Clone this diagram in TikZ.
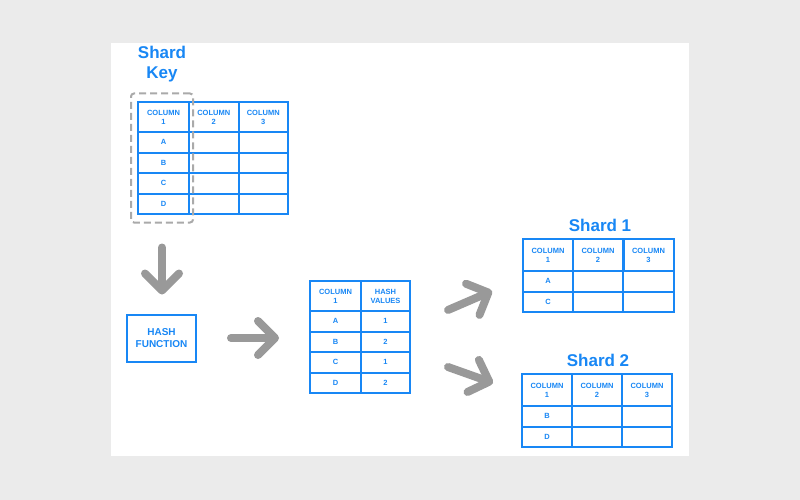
\documentclass[tikz,border=0pt]{standalone}
\usepackage{fontspec}
\setmainfont{Liberation Sans}
\usetikzlibrary{fit,positioning,arrows.meta}
\definecolor{tblue}{RGB}{24,135,245}
\definecolor{agrey}{RGB}{153,153,153}
\definecolor{dgrey}{RGB}{170,170,170}
\definecolor{bggrey}{RGB}{235,235,235}
\tikzset{
  cell/.style={draw=tblue, line width=2pt, minimum width=50pt, minimum height=20.5pt,
    inner sep=0pt, text=tblue, font=\bfseries\fontsize{7.5}{9}\selectfont, align=center},
  headcell/.style={cell, minimum height=30pt},
  bigarrow/.style={draw=agrey, line width=8pt, line cap=round,
    -{Straight Barb[length=17pt, width=34pt, round]}},
  heading/.style={text=tblue, font=\bfseries\fontsize{17}{20}\selectfont, align=center, inner sep=0pt},
}
\begin{document}
\begin{tikzpicture}[x=1pt, y=-1pt]
    \fill[bggrey] (0,0) rectangle (800,500);
    \fill[white] (111,43) rectangle (689,456);

    % original table with the shard key
    \node[headcell, minimum width=51pt] (key-1-1) at (163.5,117) {COLUMN\\1};
    \node[headcell, minimum width=49.5pt] (key-1-2) at (213.75,117) {COLUMN\\2};
    \node[headcell, minimum width=49.5pt] (key-1-3) at (263.25,117) {COLUMN\\3};
    \foreach \r/\y/\t in {2/142.25/A, 3/162.75/B, 4/183.25/C, 5/203.75/D} {
        \node[cell, minimum width=51pt] (key-\r-1) at (163.5,\y) {\t};
        \node[cell, minimum width=49.5pt] (key-\r-2) at (213.75,\y) {};
        \node[cell, minimum width=49.5pt] (key-\r-3) at (263.25,\y) {};
    }
    \node[heading] (keylbl) at (162,64) {Shard\\Key};
    \node[draw=dgrey, line width=2pt, dash pattern=on 7pt off 4pt, rounded corners=3pt,
        inner xsep=4.5pt, inner ysep=7.5pt, xshift=-1.5pt, fit=(key-1-1)(key-5-1)] (keybox) {};

    % hash function
    \node[cell, minimum width=69pt, minimum height=47pt, font=\bfseries\fontsize{10}{11.5}\selectfont]
        (hash) at (161.5,338) {HASH\\FUNCTION};

    % hashed table
    \node[headcell, minimum width=51pt] (hv-1-1) at (335.5,296) {COLUMN\\1};
    \node[headcell, minimum width=49pt] (hv-1-2) at (385.5,296) {HASH\\VALUES};
    \foreach \r/\y/\t/\v in {2/321.25/A/1, 3/341.75/B/2, 4/362.25/C/1, 5/382.75/D/2} {
        \node[cell, minimum width=51pt] (hv-\r-1) at (335.5,\y) {\t};
        \node[cell, minimum width=49pt] (hv-\r-2) at (385.5,\y) {\v};
    }

    % shard 1
    \foreach \c/\x in {1/548, 2/598, 3/648.5} {
        \node[cell, minimum height=32pt] (sa-1-\c) at (\x,255) {COLUMN\\\c};
    }
    \foreach \r/\y/\t in {2/281.25/A, 3/301.75/C} {
        \node[cell] (sa-\r-1) at (548,\y) {\t};
        \node[cell] (sa-\r-2) at (598,\y) {};
        \node[cell, minimum width=51pt] (sa-\r-3) at (648.5,\y) {};
    }
    \node[heading] (salbl) at (600,225) {Shard 1};

    % shard 2
    \foreach \c/\x in {1/547, 2/597, 3/647} {
        \node[cell, minimum height=32pt] (sb-1-\c) at (\x,390) {COLUMN\\\c};
    }
    \foreach \r/\y/\t in {2/416.25/B, 3/436.75/D} {
        \node[cell] (sb-\r-1) at (547,\y) {\t};
        \node[cell] (sb-\r-2) at (597,\y) {};
        \node[cell] (sb-\r-3) at (647,\y) {};
    }
    \node[heading] (sblbl) at (598,360) {Shard 2};

    % arrows
    \coordinate (upA) at (448,310);
    \coordinate (upB) at (492,291);
    \coordinate (dnA) at (448,367);
    \coordinate (dnB) at (493,383);
    \draw[bigarrow, shorten <=24pt, shorten >=19pt] (keybox.south) -- (keybox.south |- hash.north);
    \draw[bigarrow, shorten <=34pt, shorten >=30pt] (hash.east) -- (hash.east -| hv-1-1.west);
    \draw[bigarrow] (upA) -- (upB);
    \draw[bigarrow] (dnA) -- (dnB);
\end{tikzpicture}
\end{document}
